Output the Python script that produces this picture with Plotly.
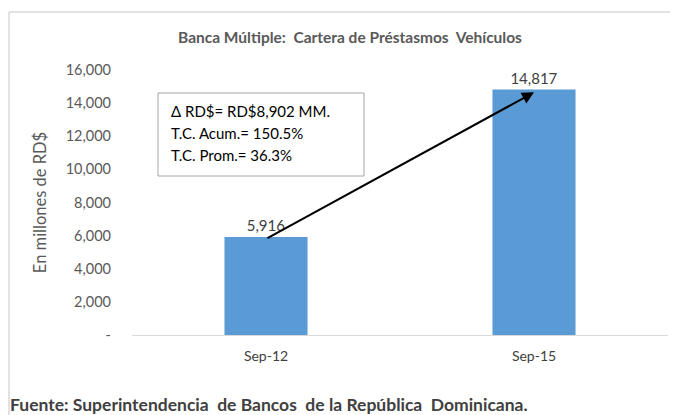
import plotly.graph_objects as go

categories = ["Sep-12", "Sep-15"]
values = [5916, 14817]
value_labels = ["5,916", "14,817"]
tick_vals = [0, 2000, 4000, 6000, 8000, 10000, 12000, 14000, 16000]
tick_text = ["-", "2,000", "4,000", "6,000", "8,000", "10,000", "12,000", "14,000", "16,000"]
box_lines = ["Δ RD$= RD$8,902 MM.", "T.C. Acum.= 150.5%", "T.C. Prom.= 36.3%"]

FONT = "Lato, 'Open Sans', sans-serif"
OFF = 8  # page body margin
W, H = 670, 407
PL, PR, PT, PB = 132, 668, 70, 335  # plot area in page pixels
L, T = PL - OFF, PT - OFF
R = W - (PR - OFF)
B = H - (PB - OFF)
pw, ph = W - L - R, H - T - B

def px_x(x):
    return (x - OFF - L) / pw

def px_y(y):
    return (H - B - (y - OFF)) / ph

fig = go.Figure()
fig.add_trace(go.Bar(
    x=categories, y=values, width=0.31,
    marker=dict(color="#5B9BD5", line=dict(width=0)),
    text=value_labels, textposition="outside",
    textfont=dict(family=FONT, size=15, color="#404040"),
    cliponaxis=False,
))

fig.update_layout(
    width=W, height=H,
    margin=dict(l=L, r=R, t=T, b=B, pad=0),
    paper_bgcolor="white", plot_bgcolor="white",
    showlegend=False,
    title=dict(text="<b>Banca Múltiple:  Cartera de Préstasmos  Vehículos</b>",
               xref="container", yref="container",
               x=(350 - OFF) / W, xanchor="center", y=1 - (38 - OFF) / H, yanchor="middle",
               font=dict(family=FONT, size=15.5, color="#595959")),
    xaxis=dict(showgrid=False, showline=True, linecolor="#D9D9D9", linewidth=1,
               ticks="", ticklabelstandoff=8,
               tickfont=dict(family=FONT, size=14, color="#404040")),
    yaxis=dict(range=[0, 16000], tickvals=tick_vals, ticktext=tick_text,
               showgrid=False, showline=False, zeroline=False, ticks="",
               ticklabelstandoff=20,
               tickfont=dict(family=FONT, size=14.5, color="#595959"),
               title=dict(text="En millones de RD$", standoff=14,
                          font=dict(family=FONT, size=16.5, color="#595959"))),
)

# outer frame lines
fig.add_shape(type="line", xref="paper", yref="paper", x0=px_x(9), x1=px_x(9),
              y0=px_y(12), y1=px_y(415), line=dict(color="#D9D9D9", width=1.5))
fig.add_shape(type="line", xref="paper", yref="paper", x0=px_x(9), x1=px_x(678),
              y0=px_y(12), y1=px_y(12), line=dict(color="#D9D9D9", width=1.5))

# text box
fig.add_shape(type="rect", xref="paper", yref="paper", x0=px_x(158), x1=px_x(364),
              y0=px_y(176), y1=px_y(93), line=dict(color="#A6A6A6", width=1),
              fillcolor="white")
for i, t in enumerate(box_lines):
    fig.add_annotation(xref="paper", yref="paper", x=px_x(169), y=px_y(111 + 22 * i),
                       text=t, showarrow=False, xanchor="left", yanchor="middle",
                       font=dict(family=FONT, size=15, color="#000000"))

# arrow
fig.add_annotation(x=1, y=14650, xref="x", yref="y", ax=0, ay=5800, axref="x", ayref="y",
                   text="", showarrow=True, arrowhead=2, arrowsize=1.2, arrowwidth=2,
                   arrowcolor="#000000")

# source
fig.add_annotation(xref="paper", yref="paper", x=px_x(8), y=px_y(404), showarrow=False,
                   xanchor="left", yanchor="middle",
                   text="<b>Fuente: Superintendencia  de Bancos  de la República  Dominicana.</b>",
                   font=dict(family=FONT, size=17.5, color="#404040"))

fig.write_html("out.html")
